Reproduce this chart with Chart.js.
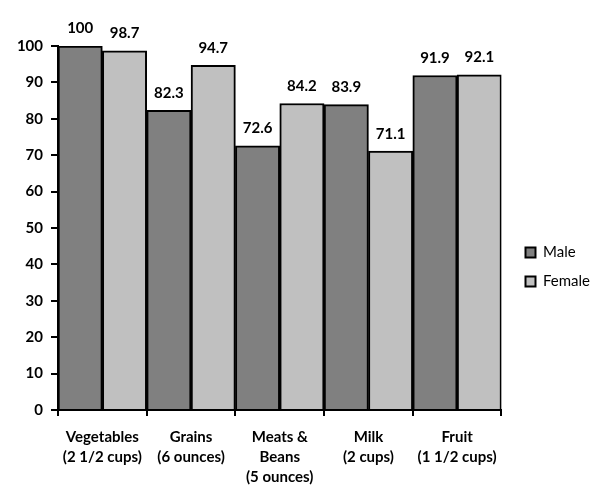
<!DOCTYPE html>
<html>
<head>
<meta charset="utf-8">
<script src="https://cdn.jsdelivr.net/npm/chart.js@4.4.0/dist/chart.umd.min.js"></script>
<style>
  html, body { margin: 0; padding: 0; background: #fff; }
  #wrap { width: 600px; height: 502px; }
</style>
</head>
<body>
<div id="wrap"><canvas id="foodChart"></canvas></div>
<script>
const categories = [
    ['Vegetables', '(2 1/2 cups)'],
    ['Grains', '(6 ounces)'],
    ['Meats &', 'Beans', '(5 ounces)'],
    ['Milk', '(2 cups)'],
    ['Fruit', '(1 1/2 cups)']
];
const maleValues = [100, 82.3, 72.6, 83.9, 91.9];
const femaleValues = [98.7, 94.7, 84.2, 71.1, 92.1];

const FONT = 'Lato, "Open Sans", sans-serif';

// value labels above each bar
const valueLabels = {
    id: 'valueLabels',
    afterDatasetsDraw(chart) {
        const ctx = chart.ctx;
        ctx.save();
        ctx.font = 'bold 15px ' + FONT;
        ctx.fillStyle = '#000';
        ctx.textAlign = 'center';
        ctx.textBaseline = 'bottom';
        chart.data.datasets.forEach((ds, i) => {
            chart.getDatasetMeta(i).data.forEach((bar, j) => {
                ctx.fillText(String(ds.data[j]), bar.x, bar.y - 10);
            });
        });
        ctx.restore();
    }
};

new Chart(document.getElementById('foodChart'), {
    type: 'bar',
    data: {
        labels: categories,
        datasets: [{
            label: 'Male',
            data: maleValues,
            backgroundColor: '#808080',
            borderColor: '#000',
            borderWidth: 2,
            borderSkipped: 'bottom'
        }, {
            label: 'Female',
            data: femaleValues,
            backgroundColor: '#c0c0c0',
            borderColor: '#000',
            borderWidth: 2,
            borderSkipped: 'bottom'
        }]
    },
    options: {
        responsive: true,
        maintainAspectRatio: false,
        animation: false,
        datasets: {
            bar: { barPercentage: 1, categoryPercentage: 1 }
        },
        layout: { padding: { top: 46, right: 0, bottom: 14, left: 0 } },
        plugins: {
            legend: {
                position: 'right',
                labels: {
                    boxWidth: 10,
                    boxHeight: 10,
                    padding: 14,
                    color: '#000',
                    font: { family: FONT, size: 15 }
                }
            },
            tooltip: { enabled: false }
        },
        scales: {
            x: {
                grid: {
                    drawOnChartArea: false,
                    color: '#000',
                    lineWidth: 2,
                    tickLength: 6
                },
                border: { color: '#000', width: 2 },
                ticks: {
                    color: '#000',
                    padding: 11,
                    maxRotation: 0,
                    autoSkip: false,
                    font: { family: FONT, size: 15, weight: 'bold', lineHeight: 1.33 }
                },
                afterFit(scale) { scale.height = 78; }
            },
            y: {
                min: 0,
                max: 100,
                grid: {
                    drawOnChartArea: false,
                    color: '#000',
                    lineWidth: 2,
                    tickLength: 7
                },
                border: { color: '#000', width: 2 },
                ticks: {
                    stepSize: 10,
                    color: '#000',
                    padding: 8,
                    font: { family: FONT, size: 15, weight: 'bold' }
                },
                afterFit(scale) { scale.width = 58; }
            },
            gap: {
                position: 'right',
                display: true,
                grid: { display: false },
                border: { display: false },
                ticks: { display: false },
                afterFit(scale) { scale.width = 10; }
            }
        }
    },
    plugins: [valueLabels]
});
</script>
</body>
</html>
